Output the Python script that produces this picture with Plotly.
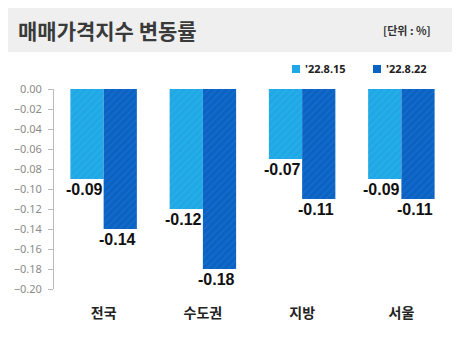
import plotly.graph_objects as go

categories = ["전국", "수도권", "지방", "서울"]
series_names = ["'22.8.15", "'22.8.22"]
values_0815 = [-0.09, -0.12, -0.07, -0.09]
values_0822 = [-0.14, -0.18, -0.11, -0.11]
y_ticks = [0.0, -0.02, -0.04, -0.06, -0.08, -0.10, -0.12, -0.14, -0.16, -0.18, -0.20]

colors = ["#1EA8E6", "#0A62C4"]
W, H = 466, 338
L, R, T, B = 54, 15, 89, 49
pw, ph = W - L - R, H - T - B

def px(x):
    return (x - L) / pw

def py(y):
    return (H - B - y) / ph

fig = go.Figure()
for name, vals, col in zip(series_names, [values_0815, values_0822], colors):
    fig.add_trace(go.Bar(
        x=categories, y=vals, name=name, showlegend=False,
        marker=dict(color=col, line=dict(width=0),
                    pattern=dict(shape="/", fgcolor="#FFFFFF", fgopacity=0.06, size=5, solidity=0.3)),
    ))

legend_x = [292, 373]
shapes = [dict(type="rect", xref="paper", yref="paper",
               x0=px(8), x1=px(452), y0=py(52), y1=py(8),
               fillcolor="#EFEFEF", line=dict(width=0), layer="below")]
annotations = [
    dict(text="<b>매매가격지수 변동률</b>", xref="paper", yref="paper",
         x=px(16), y=py(30), xanchor="left", yanchor="middle", showarrow=False,
         font=dict(family="Noto Sans CJK KR", size=21, color="#3A3A3A")),
    dict(text="<b>[단위 : %]</b>", xref="paper", yref="paper",
         x=px(433), y=py(30), xanchor="right", yanchor="middle", showarrow=False,
         font=dict(family="Noto Sans CJK KR", size=11, color="#333333")),
]
for lx, name, col in zip(legend_x, series_names, colors):
    shapes.append(dict(type="rect", xref="paper", yref="paper",
                       x0=px(lx), x1=px(lx + 8), y0=py(73), y1=py(65),
                       fillcolor=col, line=dict(width=0)))
    annotations.append(dict(text=f"<b>{name}</b>", xref="paper", yref="paper",
                            x=px(lx + 11), y=py(69), xanchor="left", yanchor="middle",
                            showarrow=False,
                            font=dict(family="Noto Sans, sans-serif", size=11, color="#222222")))

# data labels under each bar
for shift, vals in zip([-16.5 - 3, 16.5 - 3], [values_0815, values_0822]):
    for cat, v in zip(categories, vals):
        annotations.append(dict(text=f"<b>{v:.2f}</b>", x=cat, y=v, xref="x", yref="y",
                                xshift=shift, yshift=-10, xanchor="center", yanchor="middle",
                                showarrow=False,
                                font=dict(family="Liberation Sans, sans-serif", size=16, color="#111111")))

fig.update_layout(
    width=W, height=H,
    margin=dict(l=L, r=R, t=T, b=B),
    paper_bgcolor="white", plot_bgcolor="white",
    barmode="group", bargap=0.33, bargroupgap=0,
    showlegend=False,
    xaxis=dict(showline=False, ticks="", showgrid=False,
               tickfont=dict(family="Noto Sans CJK KR", size=14, color="#222222", weight="bold"),
               ticklabelstandoff=14),
    yaxis=dict(range=[-0.20, 0.0], tickvals=y_ticks, tickformat=".2f",
               showgrid=False, zeroline=False,
               showline=True, linecolor="#BBBBBB", linewidth=1,
               ticks="outside", ticklen=5, tickcolor="#BBBBBB",
               ticklabelstandoff=4,
               tickfont=dict(family="Noto Sans, sans-serif", size=11, color="#8A8A8A")),
    shapes=shapes,
    annotations=annotations,
)

fig.write_html("out.html")
